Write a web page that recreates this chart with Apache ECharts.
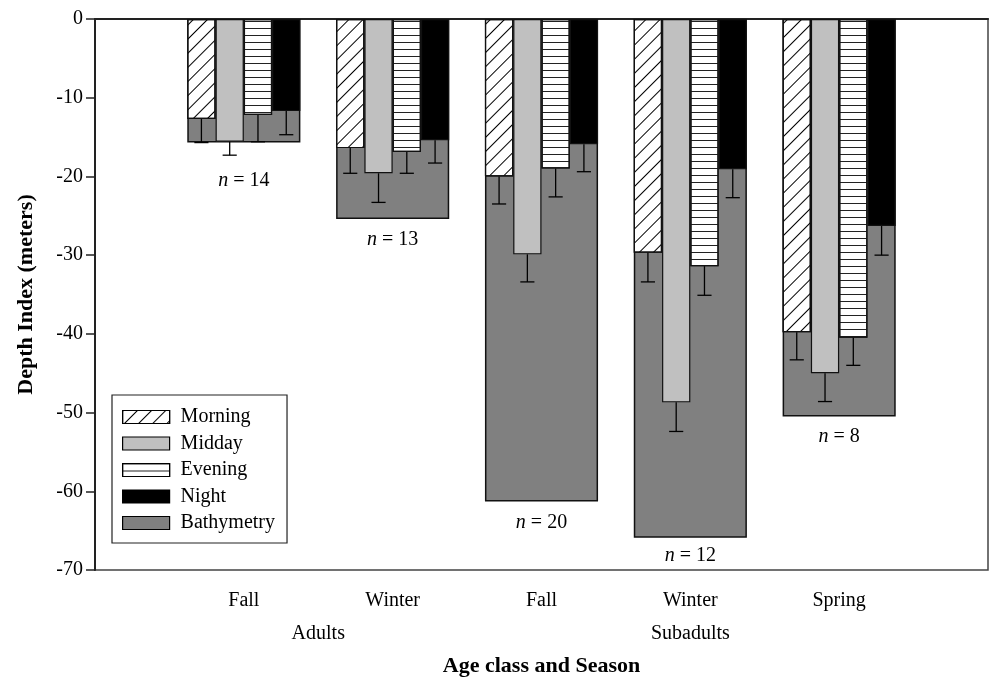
<!DOCTYPE html>
<html>
<head>
<meta charset="utf-8">
<script src="https://cdn.jsdelivr.net/npm/echarts@6/dist/echarts.min.js"></script>
<style>
html,body{margin:0;padding:0;background:#fff;}
#chart{width:989px;height:679px;}
</style>
</head>
<body>
<div id="chart"></div>
<script>
// ---- data ----
var categories = ['Fall', 'Winter', 'Fall', 'Winter', 'Spring'];
var groups = ['Adults', 'Subadults'];
var groupMembers = [[0, 1], [2, 3, 4]];
var seriesNames = ['Morning', 'Midday', 'Evening', 'Night', 'Bathymetry'];
var morning = [-12.7, -16.4, -20.0, -29.7, -39.8];
var midday = [-15.6, -19.6, -29.9, -48.7, -45.0];
var evening = [-12.2, -16.9, -19.0, -31.4, -40.5];
var night = [-11.7, -15.4, -15.9, -19.1, -26.3];
var morningSE = [3.0, 3.2, 3.5, 3.7, 3.5];
var middaySE = [1.7, 3.7, 3.5, 3.7, 3.6];
var eveningSE = [3.4, 2.7, 3.6, 3.7, 3.5];
var nightSE = [3.0, 2.9, 3.5, 3.6, 3.7];
var bathymetry = [-15.7, -25.4, -61.3, -65.9, -50.5];
var sampleSizes = [14, 13, 20, 12, 8];
var yTicks = [0, -10, -20, -30, -40, -50, -60, -70];

// ---- styles ----
var FONT = "'Liberation Serif','Times New Roman',serif";
var labelOffsets = [26, 21, 21, 18, 20];
var BAR_FRAC = 0.19;

function pad(arr) { return [null].concat(arr).concat([null]); }
var xCats = [''].concat(categories).concat(['']);

var timeMeans = [morning, midday, evening, night];
var timeSE = [morningSE, middaySE, eveningSE, nightSE];

var errData = [];
for (var k = 0; k < 4; k++) {
  for (var i = 0; i < categories.length; i++) {
    errData.push([i + 1, k, timeMeans[k][i], timeMeans[k][i] - timeSE[k][i]]);
  }
}
var nData = [];
for (var i = 0; i < categories.length; i++) {
  var low = bathymetry[i];
  for (var k = 0; k < 4; k++) low = Math.min(low, timeMeans[k][i] - timeSE[k][i]);
  nData.push([i + 1, low, sampleSizes[i], labelOffsets[i]]);
}

var diagDecal = { symbol: 'rect', symbolSize: 1, color: '#000', dashArrayX: [1, 0], dashArrayY: [1, 8.5], rotation: -Math.PI / 4 };
var horizDecal = { symbol: 'rect', symbolSize: 1, color: '#222', dashArrayX: [1, 0], dashArrayY: [1, 5.7], rotation: 0 };

var chart = echarts.init(document.getElementById('chart'));
var option = {
  animation: false,
  backgroundColor: '#fff',
  textStyle: { fontFamily: FONT },
  grid: { left: 95, right: 1, top: 19, bottom: 109, show: true, borderColor: '#444', borderWidth: 1.5,
          containLabel: false, outerBoundsMode: 'none' },
  legend: {
    orient: 'vertical', left: 112, top: 395,
    data: seriesNames,
    itemWidth: 47, itemHeight: 13, itemGap: 6.5,
    padding: [12, 12, 10, 10],
    borderColor: '#222', borderWidth: 1.2, backgroundColor: '#fff',
    icon: 'rect',
    itemStyle: { borderColor: '#000', borderWidth: 1.2 },
    textStyle: { fontFamily: FONT, fontSize: 20, color: '#000', padding: [0, 0, 0, 6] },
    selectedMode: false
  },
  xAxis: [{
    type: 'category', data: xCats, boundaryGap: false,
    axisLine: { lineStyle: { color: '#222', width: 2 } },
    axisTick: { show: true, length: 8, inside: false, interval: function (idx) { return idx > 0 && idx < xCats.length - 1; }, lineStyle: { color: '#222', width: 1.5 } },
    axisLabel: { interval: 0, margin: 21, fontFamily: FONT, fontSize: 20, color: '#000' },
    splitLine: { show: false },
    name: 'Age class and Season', nameLocation: 'middle', nameGap: 85,
    nameTextStyle: { fontFamily: FONT, fontSize: 22, fontWeight: 'bold', color: '#000' }
  }, {
    type: 'category', data: xCats, boundaryGap: false, show: false
  }],
  yAxis: {
    type: 'value', min: -70, max: 0, interval: 10,
    axisLine: { show: true, lineStyle: { color: '#222', width: 2 } },
    axisTick: { show: true, length: 9, lineStyle: { color: '#222', width: 1.5 } },
    axisLabel: { margin: 12, fontFamily: FONT, fontSize: 20, color: '#000' },
    splitLine: { show: false },
    name: 'Depth Index (meters)', nameLocation: 'middle', nameGap: 58,
    nameTextStyle: { fontFamily: FONT, fontSize: 22, fontWeight: 'bold', color: '#000' }
  },
  series: [
    { name: 'Bathymetry', type: 'bar', xAxisIndex: 1, data: pad(bathymetry), barWidth: (BAR_FRAC * 4 * 100) + '%', z: 1,
      itemStyle: { color: '#808080', borderColor: '#111', borderWidth: 1.5 } },
    { name: 'Morning', type: 'bar', xAxisIndex: 0, data: pad(morning), barWidth: (BAR_FRAC * 100) + '%', barGap: '0%', z: 2,
      itemStyle: { color: '#fff', borderColor: '#111', borderWidth: 1.2, decal: diagDecal } },
    { name: 'Midday', type: 'bar', xAxisIndex: 0, data: pad(midday), barWidth: (BAR_FRAC * 100) + '%', barGap: '0%', z: 2,
      itemStyle: { color: '#c0c0c0', borderColor: '#111', borderWidth: 1.2 } },
    { name: 'Evening', type: 'bar', xAxisIndex: 0, data: pad(evening), barWidth: (BAR_FRAC * 100) + '%', barGap: '0%', z: 2,
      itemStyle: { color: '#fff', borderColor: '#111', borderWidth: 1.2, decal: horizDecal } },
    { name: 'Night', type: 'bar', xAxisIndex: 0, data: pad(night), barWidth: (BAR_FRAC * 100) + '%', barGap: '0%', z: 2,
      itemStyle: { color: '#000', borderColor: '#111', borderWidth: 1.2 } },
    { name: 'errors', type: 'custom', xAxisIndex: 0, z: 5, silent: true,
      data: errData,
      renderItem: function (params, api) {
        var idx = api.value(0), k = api.value(1);
        var bw = api.size([1, 0])[0] * BAR_FRAC;
        var top = api.coord([idx, api.value(2)]);
        var bot = api.coord([idx, api.value(3)]);
        var cx = top[0] + (k - 1.5) * bw;
        var half = bw * 0.25;
        var st = { stroke: '#000', lineWidth: 1.3 };
        return { type: 'group', children: [
          { type: 'line', shape: { x1: cx, y1: top[1], x2: cx, y2: bot[1] }, style: st },
          { type: 'line', shape: { x1: cx - half, y1: bot[1], x2: cx + half, y2: bot[1] }, style: st }
        ] };
      }
    },
    { name: 'nlabels', type: 'custom', xAxisIndex: 0, z: 5, silent: true,
      data: nData,
      renderItem: function (params, api) {
        var p = api.coord([api.value(0), api.value(1)]);
        return { type: 'text', style: {
          text: '{i|n} = ' + api.value(2), x: p[0], y: p[1] + api.value(3),
          align: 'center', verticalAlign: 'middle',
          fontFamily: FONT, fontSize: 20, fill: '#000',
          rich: { i: { fontStyle: 'italic', fontFamily: FONT, fontSize: 20, fill: '#000' } }
        } };
      }
    }
  ]
};
chart.setOption(option);

// group labels centered under their categories
var g = [];
for (var j = 0; j < groups.length; j++) {
  var sum = 0;
  for (var m = 0; m < groupMembers[j].length; m++) {
    sum += chart.convertToPixel({ xAxisIndex: 0 }, groupMembers[j][m] + 1);
  }
  var cx = sum / groupMembers[j].length;
  var yb = chart.convertToPixel({ yAxisIndex: 0 }, -70);
  g.push({ type: 'text', x: cx, y: yb + 64, style: { text: groups[j], align: 'center', verticalAlign: 'middle', fontFamily: FONT, fontSize: 20, fill: '#000' } });
}
chart.setOption({ graphic: g });
</script>
</body>
</html>
